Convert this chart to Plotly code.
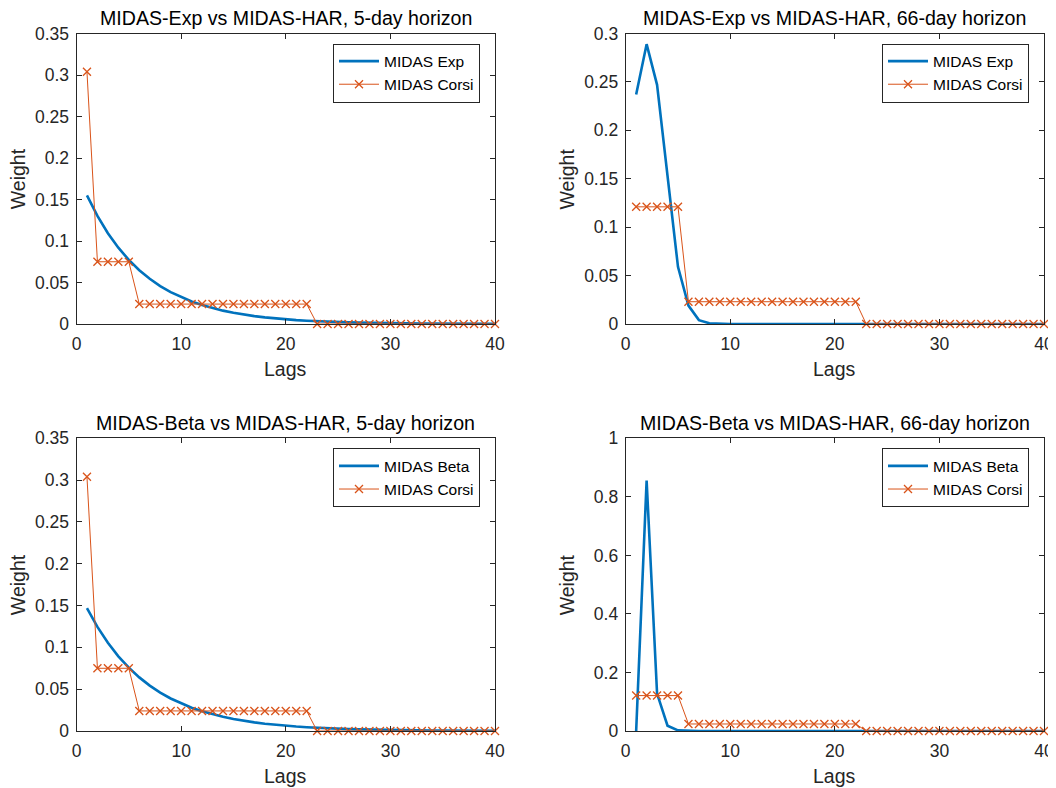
import plotly.graph_objects as go

# page body has an 8px default margin; figure is sized to fill the rest of the window
OFF = 8
W, H = 1056 - OFF, 788 - OFF

lags = list(range(1, 41))

exp_5d = [0.155, 0.1302, 0.1094, 0.0919, 0.0772, 0.0648, 0.0545, 0.0457, 0.0384, 0.0323,
          0.0271, 0.0228, 0.0191, 0.0161, 0.0135, 0.0113, 0.0095, 0.0080, 0.0067, 0.0056,
          0.0047, 0.0040, 0.0033, 0.0028, 0.0024, 0.0020, 0.0017, 0.0014, 0.0012, 0.0010,
          0.0008, 0.0007, 0.0006, 0.0005, 0.0004, 0.0003, 0.0003, 0.0002, 0.0002, 0.0002]
corsi_5d_exp = [0.304, 0.075, 0.075, 0.075, 0.075, 0.024, 0.024, 0.024, 0.024, 0.024,
                0.024, 0.024, 0.024, 0.024, 0.024, 0.024, 0.024, 0.024, 0.024, 0.024,
                0.024, 0.024, 0.0, 0.0, 0.0, 0.0, 0.0, 0.0, 0.0, 0.0,
                0.0, 0.0, 0.0, 0.0, 0.0, 0.0, 0.0, 0.0, 0.0, 0.0]

exp_66d = [0.237, 0.289, 0.247, 0.150, 0.059, 0.019, 0.004, 0.0008, 0.0001, 0.0,
           0.0, 0.0, 0.0, 0.0, 0.0, 0.0, 0.0, 0.0, 0.0, 0.0,
           0.0, 0.0, 0.0, 0.0, 0.0, 0.0, 0.0, 0.0, 0.0, 0.0,
           0.0, 0.0, 0.0, 0.0, 0.0, 0.0, 0.0, 0.0, 0.0, 0.0]
corsi_66d_exp = [0.121, 0.121, 0.121, 0.121, 0.121, 0.023, 0.023, 0.023, 0.023, 0.023,
                 0.023, 0.023, 0.023, 0.023, 0.023, 0.023, 0.023, 0.023, 0.023, 0.023,
                 0.023, 0.023, 0.0, 0.0, 0.0, 0.0, 0.0, 0.0, 0.0, 0.0,
                 0.0, 0.0, 0.0, 0.0, 0.0, 0.0, 0.0, 0.0, 0.0, 0.0]

beta_5d = [0.147, 0.1245, 0.1055, 0.0893, 0.0757, 0.0641, 0.0543, 0.0460, 0.0389, 0.0330,
           0.0279, 0.0237, 0.0200, 0.0170, 0.0144, 0.0122, 0.0103, 0.0087, 0.0074, 0.0063,
           0.0053, 0.0045, 0.0038, 0.0032, 0.0027, 0.0023, 0.0020, 0.0017, 0.0014, 0.0012,
           0.0010, 0.0009, 0.0007, 0.0006, 0.0005, 0.0004, 0.0004, 0.0003, 0.0003, 0.0002]
corsi_5d_beta = [0.304, 0.075, 0.075, 0.075, 0.075, 0.024, 0.024, 0.024, 0.024, 0.024,
                 0.024, 0.024, 0.024, 0.024, 0.024, 0.024, 0.024, 0.024, 0.024, 0.024,
                 0.024, 0.024, 0.0, 0.0, 0.0, 0.0, 0.0, 0.0, 0.0, 0.0,
                 0.0, 0.0, 0.0, 0.0, 0.0, 0.0, 0.0, 0.0, 0.0, 0.0]

beta_66d = [0.0, 0.856, 0.128, 0.018, 0.002, 0.0002, 0.0, 0.0, 0.0, 0.0,
            0.0, 0.0, 0.0, 0.0, 0.0, 0.0, 0.0, 0.0, 0.0, 0.0,
            0.0, 0.0, 0.0, 0.0, 0.0, 0.0, 0.0, 0.0, 0.0, 0.0,
            0.0, 0.0, 0.0, 0.0, 0.0, 0.0, 0.0, 0.0, 0.0, 0.0]
corsi_66d_beta = [0.121, 0.121, 0.121, 0.121, 0.121, 0.024, 0.024, 0.024, 0.024, 0.024,
                  0.024, 0.024, 0.024, 0.024, 0.024, 0.024, 0.024, 0.024, 0.024, 0.024,
                  0.024, 0.024, 0.0, 0.0, 0.0, 0.0, 0.0, 0.0, 0.0, 0.0,
                  0.0, 0.0, 0.0, 0.0, 0.0, 0.0, 0.0, 0.0, 0.0, 0.0]

titles = ["MIDAS-Exp vs MIDAS-HAR, 5-day horizon",
          "MIDAS-Exp vs MIDAS-HAR, 66-day horizon",
          "MIDAS-Beta vs MIDAS-HAR, 5-day horizon",
          "MIDAS-Beta vs MIDAS-HAR, 66-day horizon"]
model_names = ["MIDAS Exp", "MIDAS Exp", "MIDAS Beta", "MIDAS Beta"]
corsi_name = "MIDAS Corsi"

x_ticks = [0, 10, 20, 30, 40]
y_ticks_a = [0, 0.05, 0.1, 0.15, 0.2, 0.25, 0.3, 0.35]
y_text_a = ["0", "0.05", "0.1", "0.15", "0.2", "0.25", "0.3", "0.35"]
y_ticks_b = [0, 0.05, 0.1, 0.15, 0.2, 0.25, 0.3]
y_text_b = ["0", "0.05", "0.1", "0.15", "0.2", "0.25", "0.3"]
y_ticks_c = [0, 0.2, 0.4, 0.6, 0.8, 1]
y_text_c = ["0", "0.2", "0.4", "0.6", "0.8", "1"]

model_series = [exp_5d, exp_66d, beta_5d, beta_66d]
corsi_series = [corsi_5d_exp, corsi_66d_exp, corsi_5d_beta, corsi_66d_beta]
y_ranges = [[0, 0.35], [0, 0.3], [0, 0.35], [0, 1]]
y_tickvals = [y_ticks_a, y_ticks_b, y_ticks_a, y_ticks_c]
y_ticktext = [y_text_a, y_text_b, y_text_a, y_text_c]

BLUE = "#0072BD"
ORANGE = "#D95319"
AX = "#262626"
FONT = "Liberation Sans, Arial, Helvetica, sans-serif"

# pixel geometry of plot areas in window pixels (left, right, top, bottom)
cols = [(76.5, 495.0), (625.7, 1044.0)]
rows = [(33.5, 324.0), (438.3, 731.0)]


def px(xp):
    return (xp - OFF) / W


def py(yp):
    return 1 - (yp - OFF) / H


fig = go.Figure()
layout = dict(
    width=W, height=H,
    margin=dict(l=0, r=0, t=0, b=0, autoexpand=False),
    paper_bgcolor="white", plot_bgcolor="white",
    font=dict(family=FONT, color=AX, size=17.5),
    annotations=[],
)

for i in range(4):
    r, c = divmod(i, 2)
    xl, xr = cols[c]
    yt, yb = rows[r]
    sfx = "" if i == 0 else str(i + 1)
    leg = "legend" if i == 0 else "legend" + str(i + 1)
    fig.add_trace(go.Scatter(
        x=lags, y=model_series[i], mode="lines", name=model_names[i],
        line=dict(color=BLUE, width=2.6), xaxis="x" + sfx, yaxis="y" + sfx,
        legend=leg, cliponaxis=False))
    fig.add_trace(go.Scatter(
        x=lags, y=corsi_series[i], mode="lines+markers", name=corsi_name,
        line=dict(color=ORANGE, width=1),
        marker=dict(symbol="x-thin", size=8, color=ORANGE,
                    line=dict(color=ORANGE, width=1.3)),
        xaxis="x" + sfx, yaxis="y" + sfx, legend=leg, cliponaxis=False))

    common = dict(showgrid=False, zeroline=False, showline=True, linecolor=AX,
                  linewidth=1, mirror="ticks", ticks="inside", ticklen=5,
                  tickcolor=AX, tickwidth=1, tickfont=dict(size=17.5, color=AX),
                  automargin=False)
    layout["xaxis" + sfx] = dict(
        domain=[px(xl), px(xr)], range=[0, 40], tickvals=x_ticks,
        anchor="y" + sfx, ticklabelstandoff=4, **common)
    layout["yaxis" + sfx] = dict(
        domain=[py(yb), py(yt)], range=y_ranges[i],
        tickvals=y_tickvals[i], ticktext=y_ticktext[i],
        anchor="x" + sfx, ticklabelstandoff=3, **common)

    layout[leg] = dict(
        x=px(xr - 15), y=py(yt + 10), xanchor="right", yanchor="top",
        bgcolor="white", bordercolor=AX, borderwidth=1,
        font=dict(size=15.5, color="black", family=FONT),
        tracegroupgap=0, itemwidth=40,
        entrywidth=112, entrywidthmode="pixels")

    cx = px((xl + xr) / 2)
    layout["annotations"].append(dict(
        text=titles[i], x=cx, y=py(yt - 15), xref="paper", yref="paper",
        xanchor="center", yanchor="middle", showarrow=False,
        font=dict(size=19.6, color="black", family=FONT)))
    layout["annotations"].append(dict(
        text="Lags", x=cx, y=py(yb + 45), xref="paper", yref="paper",
        xanchor="center", yanchor="middle", showarrow=False,
        font=dict(size=19.5, color=AX, family=FONT)))
    layout["annotations"].append(dict(
        text="Weight", x=px(xl - 59), y=py((yt + yb) / 2),
        xref="paper", yref="paper", textangle=-90,
        xanchor="center", yanchor="middle", showarrow=False,
        font=dict(size=19.5, color=AX, family=FONT)))

fig.update_layout(**layout)
fig.write_html("out.html")
